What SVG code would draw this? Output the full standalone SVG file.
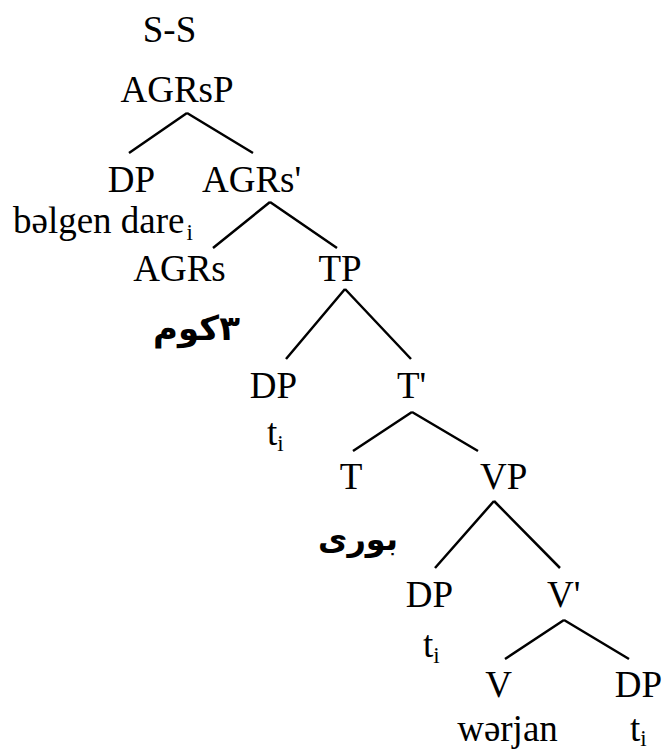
<svg xmlns="http://www.w3.org/2000/svg" width="667" height="753" viewBox="0 0 667 753">
<style>
.t { font-family: 'Liberation Serif', 'Times New Roman', Tinos, 'DejaVu Serif', serif; font-size: 37px; fill: #000; }
.c { text-anchor: middle; }
.sub { font-size: 23px; }
.ar { font-family: 'DejaVu Sans', 'Noto Sans', sans-serif; font-weight: bold; font-size: 34px; text-anchor: middle; fill: #000; }
.edge { stroke: #000; stroke-width: 2.5; fill: none; stroke-linecap: butt; }
</style>
<rect width="667" height="753" fill="#fff"/>
<g id="connectors">
<path class="edge" d="M187,113 L129,153 M187,113 L253,153"/>
<path class="edge" d="M270,202 L213,248 M270,202 L337,248"/>
<path class="edge" d="M345,289 L286,359 M345,289 L411,359"/>
<path class="edge" d="M412,412 L353,451 M412,412 L478,451"/>
<path class="edge" d="M494,501 L435,568 M494,501 L560,568"/>
<path class="edge" d="M564,620 L505,659 M564,620 L629,659"/>
</g>
<g id="n-ss"><text class="t c" x="169.5" y="42">S-S</text></g>
<g id="n-agrsp"><text class="t c" x="177" y="102">AGRsP</text></g>
<g id="n-dp1"><text class="t c" x="131.5" y="192">DP</text><text class="t" x="13" y="233">bəlgen dare<tspan class="sub" dy="7" dx="2">i</tspan></text></g>
<g id="n-agrs-bar"><text class="t" x="202" y="192">AGRs'</text></g>
<g id="n-agrs"><text class="t c" x="179.5" y="281">AGRs</text><text class="ar" x="196.5" y="340">٣کوم</text></g>
<g id="n-tp"><text class="t c" x="340" y="281">TP</text></g>
<g id="n-dp2"><text class="t c" x="273.5" y="398">DP</text><text class="t" x="267" y="445">t<tspan class="sub" dy="6">i</tspan></text></g>
<g id="n-tbar"><text class="t" x="397" y="398">T'</text></g>
<g id="n-t"><text class="t c" x="351" y="489">T</text><text class="ar" x="358" y="550" style="font-size:32px">بوری</text></g>
<g id="n-vp"><text class="t" x="480" y="489">VP</text></g>
<g id="n-dp3"><text class="t c" x="429.5" y="607">DP</text><text class="t" x="423" y="657">t<tspan class="sub" dy="6">i</tspan></text></g>
<g id="n-vbar"><text class="t" x="547" y="607">V'</text></g>
<g id="n-v"><text class="t c" x="498.5" y="697">V</text><text class="t c" x="507.5" y="741">wərjan</text></g>
<g id="n-dp4"><text class="t c" x="638.5" y="697">DP</text><text class="t" x="630" y="741">t<tspan class="sub" dy="5">i</tspan></text></g>
</svg>
